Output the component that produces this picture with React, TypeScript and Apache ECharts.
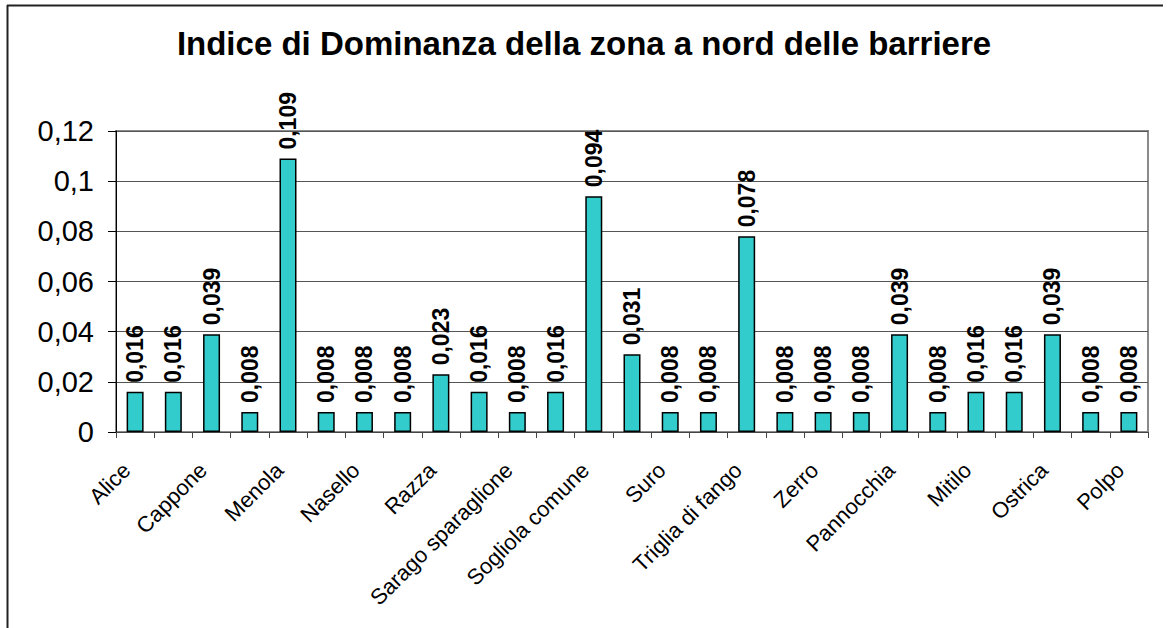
import React, { useEffect, useRef } from "react";
import * as echarts from "echarts";

const title = "Indice di Dominanza della zona a nord delle barriere";

const categories = [
  "Alice", "Boga", "Cappone", "Cefalo", "Menola", "Mormora", "Nasello", "Pagello",
  "Razza", "Salpa", "Sarago sparaglione", "Scorfano", "Sogliola comune", "Spigola",
  "Suro", "Tracina", "Triglia di fango", "Triglia di scoglio", "Zerro", "Gambero",
  "Pannocchia", "Granchio", "Mitilo", "Murice", "Ostrica", "Seppia", "Polpo",
];

const values = [
  0.016, 0.016, 0.039, 0.008, 0.109, 0.008, 0.008, 0.008, 0.023, 0.016,
  0.008, 0.016, 0.094, 0.031, 0.008, 0.008, 0.078, 0.008, 0.008, 0.008,
  0.039, 0.008, 0.016, 0.016, 0.039, 0.008, 0.008,
];

const yMin = 0;
const yMax = 0.12;
const yStep = 0.02;

const FONT = "Arial, 'Liberation Sans', sans-serif";

export default function App() {
  const ref = useRef<HTMLDivElement>(null);
  useEffect(() => {
    if (!ref.current) return;
    const chart = echarts.init(ref.current, null, { renderer: "svg" });
    chart.setOption({
      animation: false,
      backgroundColor: "#ffffff",
      title: {
        text: title,
        left: "center",
        top: 22,
        textStyle: { fontFamily: FONT, fontSize: 33, fontWeight: "bold", color: "#000" },
      },
      graphic: [
        { type: "line", shape: { x1: 7.5, y1: 5, x2: 7.5, y2: 640 }, style: { stroke: "#222", lineWidth: 2 } },
        { type: "line", shape: { x1: 7, y1: 5.5, x2: 1163, y2: 5.5 }, style: { stroke: "#222", lineWidth: 2 } },
      ],
      grid: {
        left: 116,
        right: 20,
        top: 131,
        bottom: 196,
        show: true,
        borderColor: "#8a8a8a",
        borderWidth: 2,
        backgroundColor: "transparent",
      },
      xAxis: {
        type: "category",
        data: categories,
        boundaryGap: true,
        axisLine: { lineStyle: { color: "#444", width: 1 } },
        axisTick: { show: true, alignWithLabel: false, interval: 0, length: 6, lineStyle: { color: "#444" } },
        axisLabel: {
          interval: 1,
          rotate: 45,
          fontFamily: FONT,
          fontSize: 22,
          color: "#000",
          margin: 26,
          padding: [0, 12, 0, 0],
        },
      },
      yAxis: {
        type: "value",
        min: yMin,
        max: yMax,
        interval: yStep,
        axisLine: { show: true, lineStyle: { color: "#000", width: 1 } },
        axisTick: { show: true, length: 8, lineStyle: { color: "#000" } },
        splitLine: { show: true, lineStyle: { color: "#555", width: 1 } },
        axisLabel: {
          fontFamily: FONT,
          fontSize: 29,
          color: "#000",
          margin: 22,
          formatter: (v: number) => String(parseFloat(v.toFixed(3))).replace(".", ","),
        },
      },
      series: [
        {
          type: "bar",
          data: values,
          barWidth: 17,
          itemStyle: { color: "#33CCCC", borderColor: "#000", borderWidth: 1.5 },
          label: {
            show: true,
            position: "top",
            rotate: 90,
            align: "left",
            verticalAlign: "middle",
            distance: 9,
            fontFamily: FONT,
            fontSize: 23,
            fontWeight: "bold",
            color: "#000",
            formatter: (p: any) => p.value.toFixed(3).replace(".", ","),
          },
        },
      ],
    });
    return () => chart.dispose();
  }, []);
  return (
    <div
      ref={ref}
      style={{ position: "fixed", left: 0, top: 0, width: 1168, height: 628 }}
    />
  );
}
